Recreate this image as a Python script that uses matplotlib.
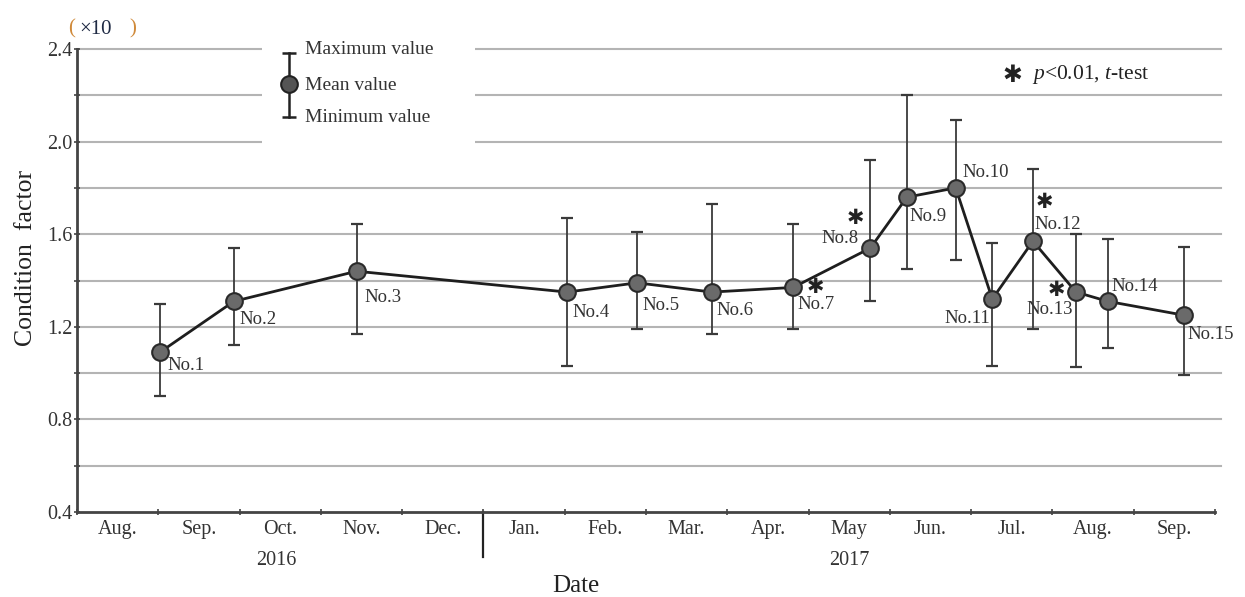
import matplotlib
matplotlib.use("Agg")
import matplotlib.pyplot as plt
from matplotlib.patches import Rectangle
from matplotlib.lines import Line2D

plt.rcParams['font.family'] = ['Liberation Serif', 'DejaVu Sans']
plt.rcParams['mathtext.fontset'] = 'custom'
plt.rcParams['mathtext.rm'] = 'Liberation Serif'
plt.rcParams['mathtext.it'] = 'Liberation Serif:italic'

# ---------------- data ----------------
month_labels = ['Aug.', 'Sep.', 'Oct.', 'Nov.', 'Dec.', 'Jan.', 'Feb.', 'Mar.',
                'Apr.', 'May', 'Jun.', 'Jul.', 'Aug.', 'Sep.']
year_labels = ['2016', '2017']
sample_labels = ['No.1', 'No.2', 'No.3', 'No.4', 'No.5', 'No.6', 'No.7', 'No.8',
                 'No.9', 'No.10', 'No.11', 'No.12', 'No.13', 'No.14', 'No.15']
# sampling time in months since 1 Aug 2016
sample_month = [1.02, 1.93, 3.44, 6.03, 6.89, 7.81, 8.81, 9.76,
                10.21, 10.81, 11.26, 11.76, 12.29, 12.68, 13.62]
mean_cf = [1.09, 1.31, 1.44, 1.35, 1.39, 1.35, 1.37, 1.54,
           1.76, 1.80, 1.32, 1.57, 1.35, 1.31, 1.25]
max_cf = [1.30, 1.54, 1.645, 1.67, 1.61, 1.73, 1.645, 1.92,
          2.20, 2.095, 1.56, 1.88, 1.60, 1.58, 1.545]
min_cf = [0.90, 1.12, 1.17, 1.03, 1.19, 1.17, 1.19, 1.31,
          1.45, 1.49, 1.03, 1.19, 1.025, 1.11, 0.99]
significant = ['No.7', 'No.8', 'No.12', 'No.13']

# ---------------- layout (pixel offsets of labels: dx, dy-down, ha) ----------------
label_layout = {
    'No.1': (8, 13, 'left'), 'No.2': (6, 18, 'left'), 'No.3': (8, 26, 'left'),
    'No.4': (5, 20, 'left'), 'No.5': (5, 23, 'left'), 'No.6': (5, 18, 'left'),
    'No.7': (4, 17, 'left'), 'No.8': (-12, -10, 'right'), 'No.9': (3, 19, 'left'),
    'No.10': (7, -15, 'left'), 'No.11': (-2, 19, 'right'), 'No.12': (2, -17, 'left'),
    'No.13': (-3, 17, 'right'), 'No.14': (4, -15, 'left'), 'No.15': (3, 19, 'left'),
}
star_layout = {'No.7': (22, 0), 'No.8': (-15, -30), 'No.12': (11, -39), 'No.13': (-20, -2)}

W, H = 1245, 597
fig = plt.figure(figsize=(W / 100, H / 100), dpi=100)
ax = fig.add_axes([77 / W, 1 - 512 / H, (1215 - 77) / W, (512 - 49) / H])

grid_c = '#b4b4b4'

# gridlines
ax.set_ylim(0.4, 2.4)
ax.set_xlim(0, 14)
for gy in [0.6, 0.8, 1.0, 1.2, 1.4, 1.6, 1.8, 2.0, 2.2, 2.4]:
    ax.axhline(gy, color=grid_c, lw=1.5, zorder=0, xmax=1.005, clip_on=False)

# error bars & line
yerr = [[m - lo for m, lo in zip(mean_cf, min_cf)], [hi - m for m, hi in zip(mean_cf, max_cf)]]
ax.errorbar(sample_month, mean_cf, yerr=yerr, fmt='none', ecolor='#3a3a3a',
            elinewidth=1.3, capsize=4.5, capthick=1.6, zorder=2)
ax.plot(sample_month, mean_cf, '-', color='#1e1e1e', lw=2.0, zorder=3)
ax.plot(sample_month, mean_cf, 'o', ms=12, mfc='#6a6a6a', mec='#2a2a2a', mew=1.5, zorder=4)

# labels
for lab, xm, ym in zip(sample_labels, sample_month, mean_cf):
    dx, dy, ha = label_layout[lab]
    ax.annotate(lab, (xm, ym), xytext=(dx, -dy), textcoords='offset pixels',
                ha=ha, va='center', fontsize=13.5, color='#333333', zorder=5)
    if lab in significant:
        sx, sy = star_layout[lab]
        ax.annotate('\u2731', (xm, ym), xytext=(sx, -sy), textcoords='offset pixels',
                    ha='center', va='center', fontsize=15, color='#222222',
                    family='DejaVu Sans', zorder=5)

# axes styling
for s in ['top', 'right']:
    ax.spines[s].set_visible(False)
for s in ['left', 'bottom']:
    ax.spines[s].set_color('#444444')
    ax.spines[s].set_linewidth(2.0)

ax.set_yticks([0.4, 0.8, 1.2, 1.6, 2.0, 2.4])
ax.set_yticklabels(['0.4', '0.8', '1.2', '1.6', '2.0', '2.4'])
ax.set_yticks([0.6, 1.0, 1.4, 1.8, 2.2], minor=True)
ax.tick_params(axis='y', which='both', direction='inout', length=5, width=1.2,
               colors='#444444', labelsize=14.5, labelcolor='#333333', pad=1)

ax.set_xticks(range(0, 15))
ax.set_xticklabels([])
ax.set_xticks([i + 0.5 for i in range(14)], minor=True)
ax.set_xticklabels(month_labels, minor=True)
ax.tick_params(axis='x', which='major', direction='inout', length=5, width=1.2, colors='#444444')
ax.tick_params(axis='x', which='minor', length=0, labelsize=14.5, labelcolor='#333333', pad=6)

# year divider and year labels
ax.plot([5, 5], [0, -0.097], transform=ax.get_xaxis_transform(), color='#222222', lw=1.6, clip_on=False)
ax.text(2.45, -0.085, year_labels[0], transform=ax.get_xaxis_transform(), ha='center', va='top',
        fontsize=14.5, color='#333333')
ax.text(9.5, -0.085, year_labels[1], transform=ax.get_xaxis_transform(), ha='center', va='top',
        fontsize=14.5, color='#333333')

fig.text(576 / W, 1 - 586 / H, 'Date', ha='center', va='center', fontsize=18, color='#222222')
fig.text(26 / W, 1 - 258 / H, 'Condition  factor', ha='center', va='center', rotation=90,
         fontsize=18.5, color='#222222')

# (x10) unit
fig.text(68 / W, 1 - 29 / H, '(', ha='left', va='center', fontsize=15, color='#d08a3a')
fig.text(79 / W, 1 - 29 / H, '\u00d710', ha='left', va='center', fontsize=15, color='#1f2a44')
fig.text(129 / W, 1 - 29 / H, ')', ha='left', va='center', fontsize=15, color='#d08a3a')

# custom legend box
fig.patches.append(Rectangle((262 / W, 1 - 145 / H), (475 - 262) / W, (145 - 28) / H,
                             transform=fig.transFigure, facecolor='white', edgecolor='none',
                             zorder=5))
gx = 289 / W
fig.lines.append(Line2D([gx, gx], [1 - 53 / H, 1 - 117 / H], transform=fig.transFigure,
                        color='#222222', lw=1.8, zorder=6))
fig.lines.append(Line2D([gx, gx], [1 - 53 / H, 1 - 117 / H], transform=fig.transFigure,
                        ls='none', marker='_', ms=10, mew=1.8, color='#222222', zorder=6))
fig.lines.append(Line2D([gx], [1 - 84 / H], transform=fig.transFigure, ls='none', marker='o',
                        ms=12, mfc='#555555', mec='#222222', mew=1.5, zorder=7))
for ty, txt in [(50, 'Maximum value'), (86, 'Mean value'), (117, 'Minimum value')]:
    fig.text(305 / W, 1 - ty / H, txt, ha='left', va='center', fontsize=14, color='#333333', zorder=8)

# significance note
fig.text(1012 / W, 1 - 75 / H, '\u2731', ha='center', va='center', fontsize=17,
         family='DejaVu Sans', color='#222222')
fig.text(1032 / W, 1 - 75 / H, '$p$<0.01, $t$-test', ha='left', va='center', fontsize=15.5,
         color='#222222')

fig.savefig('out.png', dpi=100, facecolor='white')
